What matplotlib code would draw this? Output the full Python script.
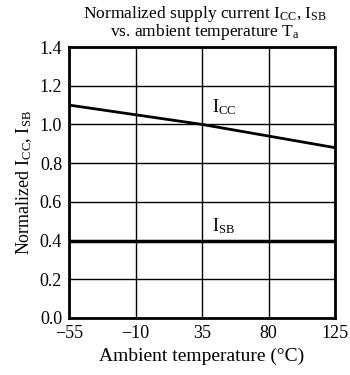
import matplotlib
matplotlib.use("Agg")
import matplotlib.pyplot as plt

temps = [-55, 35, 125]
icc = [1.10, 1.00, 0.88]
isb = [0.40, 0.40, 0.40]
xticks = [-55, -10, 35, 80, 125]
yticks = [0.0, 0.2, 0.4, 0.6, 0.8, 1.0, 1.2, 1.4]

plt.rcParams['font.family'] = ['Liberation Serif', 'DejaVu Serif']
plt.rcParams['mathtext.fontset'] = 'custom'
plt.rcParams['mathtext.rm'] = 'Liberation Serif'
plt.rcParams['mathtext.it'] = 'Liberation Serif'

fig = plt.figure(figsize=(3.5, 3.75), dpi=100)
ax = fig.add_axes([69/350, 1-318/375, 266/350, 271/375])
ax.plot(temps, icc, color='black', lw=2)
ax.plot(temps, isb, color='black', lw=2.5)
ax.set_xlim(-55, 125)
ax.set_ylim(0, 1.4)
ax.set_xticks(xticks)
ax.set_xticklabels(['\u221255', '\u221210', '35', '80', '125'])
ax.set_yticks(yticks)
ax.set_yticklabels([f'{v:.1f}' for v in yticks])
ax.grid(True, color='black', lw=1)
ax.tick_params(length=0, labelsize=13, pad=5)
for s in ax.spines.values():
    s.set_linewidth(2)
ax.text(42, 1.065, r'$\mathrm{I_{CC}}$', fontsize=13)
ax.text(42, 0.45, r'$\mathrm{I_{SB}}$', fontsize=13)
ax.set_xlabel('Ambient temperature (°C)', fontsize=14, labelpad=4)
ax.set_ylabel(r'Normalized $\mathrm{I_{CC}}$, $\mathrm{I_{SB}}$', fontsize=13, labelpad=4)
fig.text(0.585, 0.99, r'Normalized supply current $\mathrm{I_{CC}}$, $\mathrm{I_{SB}}$' + '\n' + r'vs. ambient temperature $\mathrm{T_a}$',
         ha='center', va='top', fontsize=12.5, linespacing=0.9)
fig.savefig('out.png', dpi=100)
